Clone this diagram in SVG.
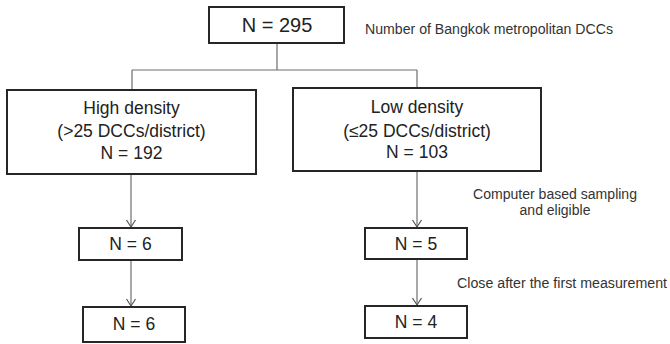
<svg xmlns="http://www.w3.org/2000/svg" width="670" height="344" viewBox="0 0 670 344">
<style>
.box{fill:#fff;stroke:#262626;stroke-width:2}
.t{font-family:"Liberation Sans",Arial,sans-serif;fill:#222;text-anchor:middle}
.big{font-size:20px}
.mid{font-size:17.5px}
.note{font-family:"Liberation Sans",Arial,sans-serif;fill:#333;font-size:14px}
.ln{fill:none;stroke:#6e6e6e;stroke-width:1.2}
</style>
<defs>
<marker id="ah" markerUnits="userSpaceOnUse" markerWidth="10" markerHeight="12" refX="8" refY="5" orient="auto" viewBox="0 0 10 10">
<path d="M1,0.5 L8,5 L1,9.5" fill="none" stroke="#555" stroke-width="1.2"/>
</marker>
</defs>
<rect width="670" height="344" fill="#fff"/>
<g id="connectors">
<path class="ln" d="M277,43 V70 M132,70 H417 M132,70 V90 M417,70 V88"/>
<path class="ln" d="M131,174 V227" marker-end="url(#ah)"/>
<path class="ln" d="M131,260 V306" marker-end="url(#ah)"/>
<path class="ln" d="M417,171 V227" marker-end="url(#ah)"/>
<path class="ln" d="M417,259 V305" marker-end="url(#ah)"/>
</g>
<g id="n295">
<rect class="box" x="209" y="7" width="135" height="36"/>
<text class="t big" x="277" y="32">N = 295</text>
</g>
<g id="note-top"><text class="note" x="365" y="34" textLength="248" lengthAdjust="spacingAndGlyphs">Number of Bangkok metropolitan DCCs</text></g>
<g id="high">
<rect class="box" x="7" y="90" width="249" height="84"/>
<text class="t mid" x="131.5" y="114">High density</text>
<text class="t mid" x="131.5" y="137">(&gt;25 DCCs/district)</text>
<text class="t mid" x="131.5" y="159">N = 192</text>
</g>
<g id="low">
<rect class="box" x="293" y="88" width="248" height="83"/>
<text class="t mid" x="417" y="113">Low density</text>
<text class="t mid" x="417" y="137">(≤25 DCCs/district)</text>
<text class="t mid" x="417" y="158">N = 103</text>
</g>
<g id="note-sampling">
<text class="note" x="473" y="199" textLength="164" lengthAdjust="spacingAndGlyphs">Computer based sampling</text>
<text class="note" x="555" y="215" text-anchor="middle">and eligible</text>
</g>
<g id="note-close"><text class="note" x="457" y="288" textLength="210" lengthAdjust="spacingAndGlyphs">Close after the first measurement</text></g>
<g id="h6a">
<rect class="box" x="79" y="228" width="103" height="32"/>
<text class="t mid" x="130.5" y="250">N = 6</text>
</g>
<g id="h6b">
<rect class="box" x="83" y="307" width="102" height="35"/>
<text class="t mid" x="134" y="330">N = 6</text>
</g>
<g id="l5">
<rect class="box" x="365" y="228" width="102" height="31"/>
<text class="t mid" x="416" y="250">N = 5</text>
</g>
<g id="l4">
<rect class="box" x="365" y="306" width="102" height="32"/>
<text class="t mid" x="416" y="328">N = 4</text>
</g>
</svg>
